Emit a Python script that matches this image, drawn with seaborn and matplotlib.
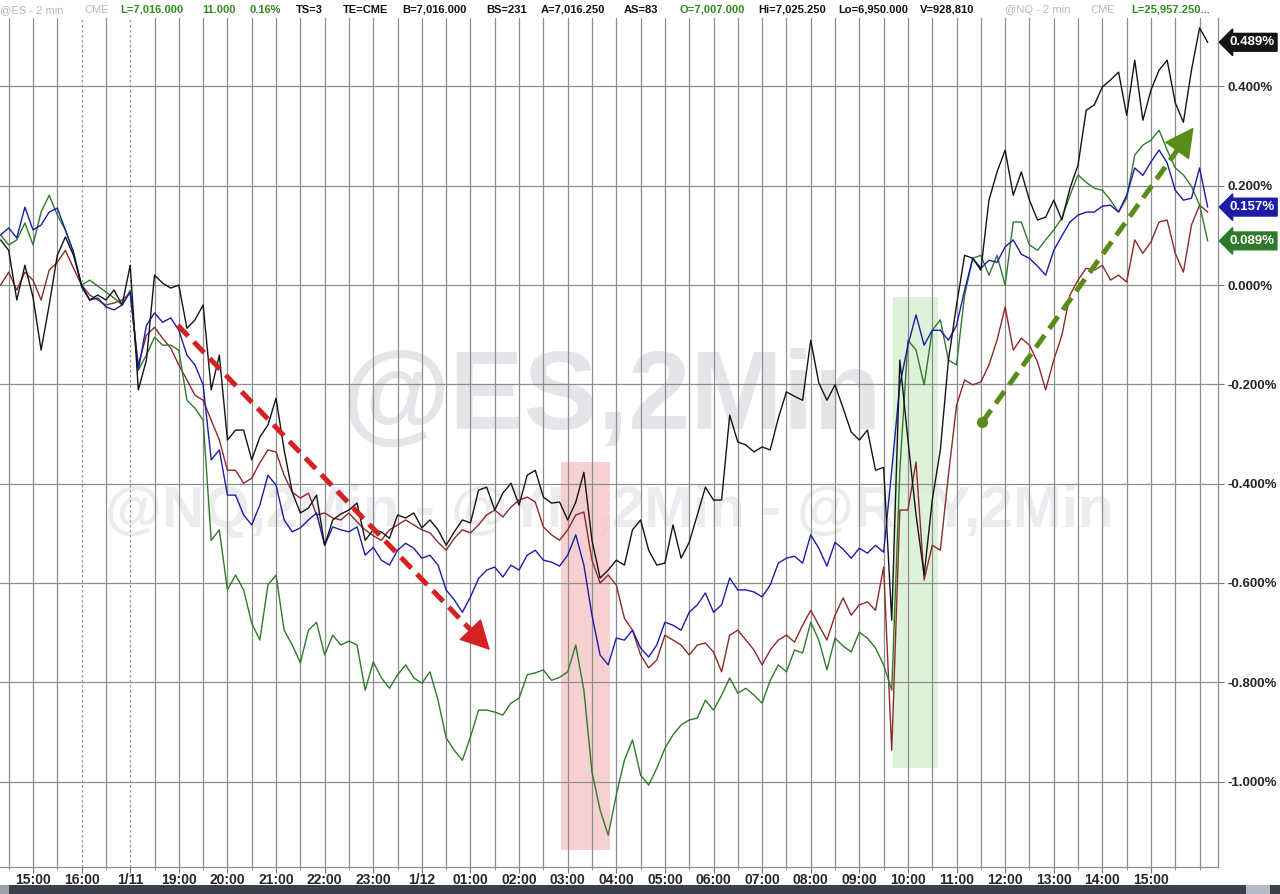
import numpy as np
import pandas as pd
import seaborn as sns
import matplotlib.pyplot as plt
import matplotlib.transforms as mtransforms
from matplotlib.patches import Rectangle

# 10-minute samples, hours after Friday 15:00 (weekend / 17:00-18:00 halt squeezed out)
hours = np.arange(-40, 1460, 10) / 60

# % change, black line
nq = [0.091, 0.070, -0.030, 0.040, -0.024, -0.131, -0.040, 0.060, 0.097, 0.060,
      0.000, -0.030, -0.020, -0.030, -0.010, -0.040, 0.040, -0.211, -0.151, 0.020,
      0.004, -0.006, 0.000, -0.087, -0.070, -0.040, -0.211, -0.141, -0.312, -0.292,
      -0.292, -0.352, -0.306, -0.282, -0.228, -0.332, -0.417, -0.459, -0.449, -0.423,
      -0.524, -0.473, -0.461, -0.453, -0.439, -0.514, -0.493, -0.497, -0.510, -0.463,
      -0.469, -0.459, -0.489, -0.473, -0.493, -0.524, -0.497, -0.473, -0.479, -0.413,
      -0.407, -0.453, -0.419, -0.399, -0.443, -0.383, -0.373, -0.427, -0.439, -0.437,
      -0.473, -0.437, -0.377, -0.514, -0.590, -0.574, -0.554, -0.564, -0.493, -0.473,
      -0.534, -0.564, -0.560, -0.483, -0.550, -0.518, -0.463, -0.407, -0.433, -0.433,
      -0.262, -0.316, -0.322, -0.336, -0.326, -0.332, -0.268, -0.215, -0.224, -0.232,
      -0.111, -0.197, -0.232, -0.201, -0.248, -0.296, -0.312, -0.292, -0.373, -0.367,
      -0.675, -0.151, -0.312, -0.463, -0.584, -0.433, -0.332, -0.151, -0.040, 0.060,
      0.054, 0.030, 0.171, 0.228, 0.272, 0.181, 0.228, 0.171, 0.131, 0.137,
      0.171, 0.131, 0.195, 0.242, 0.352, 0.363, 0.399, 0.413, 0.429, 0.342,
      0.453, 0.332, 0.393, 0.433, 0.453, 0.367, 0.328, 0.433, 0.518, 0.489]

# blue line
es = [0.101, 0.115, 0.095, 0.157, 0.111, 0.121, 0.147, 0.155, 0.111, 0.066,
      -0.004, -0.030, -0.026, -0.044, -0.050, -0.040, -0.014, -0.171, -0.081, -0.056,
      -0.075, -0.066, -0.091, -0.141, -0.161, -0.201, -0.352, -0.332, -0.423, -0.423,
      -0.463, -0.483, -0.443, -0.383, -0.403, -0.473, -0.497, -0.489, -0.473, -0.459,
      -0.524, -0.487, -0.493, -0.497, -0.487, -0.544, -0.528, -0.554, -0.564, -0.534,
      -0.520, -0.530, -0.550, -0.544, -0.564, -0.614, -0.634, -0.659, -0.628, -0.591,
      -0.574, -0.568, -0.588, -0.564, -0.574, -0.544, -0.534, -0.554, -0.558, -0.566,
      -0.544, -0.503, -0.564, -0.665, -0.745, -0.765, -0.711, -0.715, -0.695, -0.731,
      -0.749, -0.725, -0.679, -0.685, -0.695, -0.659, -0.644, -0.620, -0.659, -0.644,
      -0.590, -0.614, -0.614, -0.618, -0.628, -0.604, -0.560, -0.550, -0.546, -0.560,
      -0.503, -0.530, -0.566, -0.518, -0.532, -0.550, -0.530, -0.540, -0.524, -0.538,
      -0.373, -0.201, -0.121, -0.060, -0.121, -0.091, -0.091, -0.111, -0.081, -0.010,
      0.054, 0.034, 0.050, 0.046, 0.077, 0.091, 0.062, 0.054, 0.038, 0.020,
      0.070, 0.099, 0.127, 0.141, 0.147, 0.147, 0.159, 0.161, 0.147, 0.181,
      0.236, 0.221, 0.248, 0.272, 0.246, 0.191, 0.171, 0.175, 0.236, 0.157]

# green line
ym = [0.101, 0.081, 0.091, 0.125, 0.081, 0.147, 0.181, 0.141, 0.111, 0.066,
      0.000, 0.010, -0.002, -0.014, -0.026, -0.040, -0.010, -0.171, -0.141, -0.105,
      -0.121, -0.121, -0.131, -0.232, -0.248, -0.272, -0.514, -0.493, -0.614, -0.584,
      -0.614, -0.681, -0.715, -0.604, -0.584, -0.695, -0.725, -0.761, -0.695, -0.679,
      -0.745, -0.705, -0.725, -0.717, -0.725, -0.816, -0.759, -0.791, -0.812, -0.785,
      -0.765, -0.791, -0.802, -0.779, -0.836, -0.912, -0.937, -0.957, -0.910, -0.856,
      -0.856, -0.860, -0.866, -0.842, -0.832, -0.785, -0.781, -0.775, -0.796, -0.790,
      -0.779, -0.725, -0.816, -0.981, -1.057, -1.108, -1.027, -0.957, -0.916, -0.987,
      -1.007, -0.973, -0.933, -0.906, -0.886, -0.876, -0.872, -0.836, -0.856, -0.826,
      -0.791, -0.822, -0.812, -0.826, -0.842, -0.796, -0.765, -0.779, -0.735, -0.741,
      -0.679, -0.715, -0.775, -0.711, -0.727, -0.739, -0.699, -0.711, -0.731, -0.765,
      -0.816, -0.373, -0.111, -0.131, -0.201, -0.091, -0.070, -0.151, -0.161, -0.020,
      0.054, 0.060, 0.020, 0.060, 0.000, 0.127, 0.127, 0.081, 0.070, 0.091,
      0.111, 0.135, 0.181, 0.222, 0.207, 0.195, 0.191, 0.171, 0.147, 0.175,
      0.262, 0.282, 0.292, 0.312, 0.272, 0.236, 0.222, 0.199, 0.161, 0.089]

# dark red line
rty = [0.000, 0.026, -0.010, 0.026, 0.010, -0.030, 0.030, 0.046, 0.070, 0.034,
       0.000, -0.020, -0.030, -0.040, -0.036, -0.030, -0.016, -0.161, -0.101, -0.085,
       -0.107, -0.127, -0.161, -0.191, -0.222, -0.232, -0.272, -0.312, -0.373, -0.373,
       -0.399, -0.389, -0.358, -0.332, -0.336, -0.383, -0.417, -0.429, -0.419, -0.463,
       -0.459, -0.469, -0.473, -0.459, -0.477, -0.493, -0.505, -0.514, -0.493, -0.483,
       -0.473, -0.483, -0.493, -0.499, -0.518, -0.534, -0.510, -0.493, -0.499, -0.483,
       -0.463, -0.453, -0.467, -0.447, -0.433, -0.427, -0.437, -0.487, -0.503, -0.514,
       -0.493, -0.463, -0.457, -0.554, -0.600, -0.584, -0.604, -0.671, -0.695, -0.745,
       -0.771, -0.755, -0.705, -0.715, -0.725, -0.745, -0.725, -0.721, -0.739, -0.779,
       -0.705, -0.695, -0.715, -0.735, -0.765, -0.735, -0.715, -0.705, -0.719, -0.685,
       -0.655, -0.685, -0.715, -0.665, -0.630, -0.665, -0.644, -0.638, -0.655, -0.568,
       -0.937, -0.453, -0.453, -0.356, -0.594, -0.524, -0.534, -0.383, -0.242, -0.191,
       -0.201, -0.195, -0.161, -0.111, -0.044, -0.131, -0.107, -0.121, -0.155, -0.211,
       -0.151, -0.101, -0.020, 0.010, 0.034, 0.030, 0.040, 0.010, 0.020, 0.006,
       0.091, 0.064, 0.087, 0.127, 0.131, 0.064, 0.026, 0.121, 0.161, 0.147]

tick_labels = ['15:00', '16:00', '1/11', '19:00', '20:00', '21:00', '22:00', '23:00',
               '1/12', '01:00', '02:00', '03:00', '04:00', '05:00', '06:00', '07:00',
               '08:00', '09:00', '10:00', '11:00', '12:00', '13:00', '14:00', '15:00']
y_ticks = [0.4, 0.2, 0.0, -0.2, -0.4, -0.6, -0.8, -1.0]

# highlighted windows (hours, % range) and trend arrows
red_window = (10.86, 11.87, -1.138, -0.356)
green_window = (17.70, 18.62, -0.973, -0.024)
down_arrow = ((2.98, -0.081), (9.44, -0.739))
up_arrow = ((19.53, -0.276), (23.91, 0.322))

colors = {'NQ': '#141414', 'ES': '#1c1ca8', 'YM': '#2f7a2a', 'RTY': '#8e2a2a'}

sns.set_style('white')
plt.rcParams['font.family'] = ['Liberation Sans', 'DejaVu Sans']
narrow = ['Liberation Sans Narrow', 'Liberation Sans', 'DejaVu Sans']

fig = plt.figure(figsize=(12.8, 8.94), dpi=100)
ax = fig.add_axes([0, 0.0302, 0.9516, 0.9497])

df = pd.concat([pd.DataFrame({'hour': hours, 'pct': vals, 'sym': name})
                for name, vals in [('RTY', rty), ('YM', ym), ('ES', es), ('NQ', nq)]])
sns.lineplot(data=df, x='hour', y='pct', hue='sym', palette=colors, lw=1.0,
             estimator=None, sort=False, legend=False, ax=ax, zorder=4)

ax.set_xlim(-0.679, 24.38)
ax.set_ylim(-1.172, 0.538)
ax.set_xlabel('')
ax.set_ylabel('')

# grid
for x in np.arange(-0.5, 24.5, 0.5):
    if x in (1.0, 2.0):
        ax.axvline(x, color='#9a9a9a', lw=0.9, ls=(0, (2, 2)), zorder=1)
    else:
        ax.axvline(x, color='#8e8e8e', lw=0.9, zorder=1)
for y in y_ticks:
    ax.axhline(y, color='#8e8e8e', lw=0.9, zorder=1)

# watermarks
ax.text(0.502, 0.55, '@ES,2Min', transform=ax.transAxes, ha='center', va='center',
        fontsize=80, fontweight='bold', color='#e3e5e9', zorder=0.5)
ax.text(0.50, 0.418, '@NQ,2Min - @YM,2Min - @RTY,2Min', transform=ax.transAxes,
        ha='center', va='center', fontsize=42, fontweight='bold', color='#eaecef', zorder=0.5)

# highlighted windows
x0, x1, y0, y1 = red_window
ax.fill_between([x0, x1], y0, y1, color='#f6c9c9', alpha=0.85, lw=0, zorder=0.8)
x0, x1, y0, y1 = green_window
ax.fill_between([x0, x1], y0, y1, color='#d9f0d3', alpha=0.85, lw=0, zorder=0.8)


def trend_arrow(p0, p1, color, dot=False):
    (xa, ya), (xb, yb) = p0, p1
    f = 0.94
    xm, ym_ = xa + f * (xb - xa), ya + f * (yb - ya)
    ax.plot([xa, xm], [ya, ym_], color=color, lw=3.6, ls=(0, (3, 1.6)), zorder=6,
            solid_capstyle='butt', dash_capstyle='butt')
    ax.annotate('', xy=(xb, yb), xytext=(xm, ym_), zorder=6,
                arrowprops=dict(arrowstyle='-|>,head_length=0.8,head_width=0.42',
                                color=color, lw=1, mutation_scale=24))
    if dot:
        ax.plot([xa], [ya], 'o', ms=7, color=color, zorder=6)


trend_arrow(*down_arrow, '#d42222')
trend_arrow(*up_arrow, '#5a8c1a', dot=True)

# axes / ticks
for s in ['top', 'left']:
    ax.spines[s].set_visible(False)
for s in ['right', 'bottom']:
    ax.spines[s].set_color('#8e8e8e')
    ax.spines[s].set_linewidth(0.9)

ax.set_xticks(range(24))
ax.set_xticklabels(tick_labels, fontsize=10, fontweight='bold', family=narrow)
ax.set_xticks(np.arange(-0.5, 24.5, 0.5), minor=True)
ax.tick_params(axis='x', which='major', length=4, color='#777777', pad=0.5, bottom=True)
ax.tick_params(axis='x', which='minor', length=2.5, color='#777777', bottom=True)

ax.yaxis.tick_right()
ax.set_yticks(y_ticks)
ax.set_yticklabels([f'{v:.3f}%' for v in y_ticks], fontsize=9.5, fontweight='bold')
ax.tick_params(axis='y', length=4, color='#777777', pad=3, right=True)

# last-value tags
blend = mtransforms.blended_transform_factory(ax.transAxes, ax.transData)
for val, col in [(nq[-1], colors['NQ']), (es[-1], colors['ES']), (ym[-1], colors['YM'])]:
    ax.text(1.009, val, f'{val:.3f}%', transform=blend, ha='left', va='center',
            fontsize=9.5, fontweight='bold', color='white', zorder=10, clip_on=False,
            bbox=dict(boxstyle='larrow,pad=0.22', fc=col, ec=col))

# header quote strip
W, H = 1280, 894
grey, green, dark = '#b8b8b8', '#2e8b1e', '#111111'
header = [(0, '@ES - 2 min', grey), (84, 'CME', grey),
          (120, 'L=7,016.000', green), (202, '11.000', green), (249, '0.16%', green),
          (296, 'TS=3', dark), (343, 'TE=CME', dark), (402, 'B=7,016.000', dark),
          (486, 'BS=231', dark), (541, 'A=7,016.250', dark), (624, 'AS=83', dark),
          (680, 'O=7,007.000', green), (758, 'Hi=7,025.250', dark),
          (838, 'Lo=6,950.000', dark), (920, 'V=928,810', dark),
          (1005, '@NQ - 2 min', grey), (1090, 'CME', grey),
          (1131, 'L=25,957.250...', green)]
for xp, txt, col in header:
    fig.text(xp / W, 1 - 10 / H, txt, ha='left', va='center', fontsize=8,
             color=col, fontweight='normal' if col == grey else 'bold',
             family=['Liberation Sans', 'DejaVu Sans'])

# bottom scroll bar
fig.add_artist(Rectangle((0, 0), 1, 9 / H, transform=fig.transFigure,
                         color='#3b4149', lw=0, zorder=0))
fig.add_artist(Rectangle((0, 0), 9 / W, 9 / H, transform=fig.transFigure,
                         color='#9aa1aa', lw=0, zorder=1))
fig.add_artist(Rectangle((1246 / W, 0), 24 / W, 9 / H, transform=fig.transFigure,
                         color='#b5bbc3', lw=0, zorder=1))

fig.savefig('out.png', dpi=100, facecolor='white')
